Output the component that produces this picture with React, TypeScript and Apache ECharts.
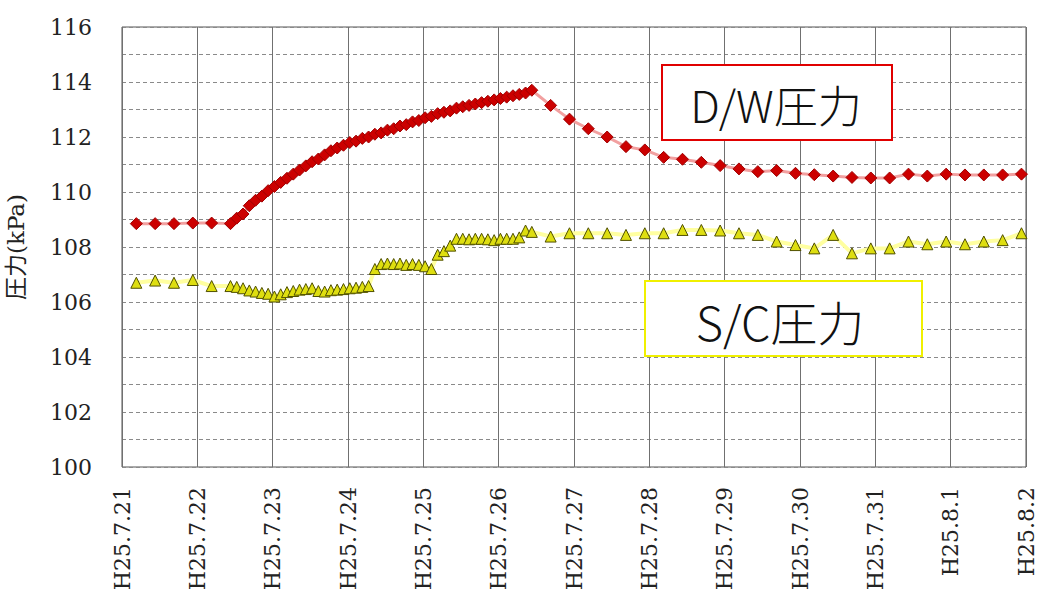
import React, { useEffect, useRef } from "react";
import * as echarts from "echarts";

// X tick labels (one per day)
const dateLabels = [
  "H25.7.21", "H25.7.22", "H25.7.23", "H25.7.24", "H25.7.25", "H25.7.26", "H25.7.27",
  "H25.7.28", "H25.7.29", "H25.7.30", "H25.7.31", "H25.8.1", "H25.8.2",
];

// Sampling (day offsets from H25.7.21)
const sparseStep = 0.25; // 6-hourly readings
const denseStep = 1 / 12; // 2-hourly readings
const beforeStart = 0.19;
const riseStart = 1.44;
const afterStart = 5.69;

// D/W pressure (kPa)
const dwBefore = [108.85, 108.85, 108.85, 108.87, 108.87];
const dwRise = [
  108.85, 109.05, 109.2, 109.5, 109.7, 109.85, 110.05, 110.2, 110.35, 110.5,
  110.65, 110.8, 110.95, 111.1, 111.2, 111.35, 111.5, 111.6, 111.7, 111.8,
  111.85, 111.95, 112.0, 112.1, 112.15, 112.25, 112.3, 112.4, 112.45, 112.55,
  112.6, 112.7, 112.75, 112.85, 112.9, 112.95, 113.05, 113.1, 113.15, 113.2,
  113.25, 113.3, 113.35, 113.4, 113.45, 113.5, 113.55, 113.6, 113.7,
];
const dwAfter = [
  113.15, 112.65, 112.3, 112.0, 111.65, 111.53, 111.26, 111.19, 111.08, 110.96,
  110.84, 110.74, 110.78, 110.68, 110.63, 110.58, 110.53, 110.51, 110.51, 110.65,
  110.58, 110.65, 110.62, 110.62, 110.62, 110.65,
];

// S/C pressure (kPa)
const scBefore = [106.7, 106.78, 106.7, 106.8, 106.58];
const scRise = [
  106.58, 106.55, 106.5, 106.42, 106.38, 106.33, 106.3, 106.2, 106.28, 106.36,
  106.4, 106.45, 106.47, 106.5, 106.4, 106.38, 106.43, 106.45, 106.47, 106.5,
  106.52, 106.55, 106.58, 107.2, 107.38, 107.4, 107.38, 107.4, 107.35, 107.38,
  107.35, 107.3, 107.2, 107.72, 107.85, 108.05, 108.3, 108.3, 108.28, 108.3,
  108.3, 108.28, 108.25, 108.3, 108.3, 108.3, 108.35, 108.6, 108.55,
];
const scAfter = [
  108.38, 108.5, 108.5, 108.5, 108.44, 108.5, 108.5, 108.62, 108.62, 108.6,
  108.5, 108.44, 108.2, 108.07, 107.95, 108.44, 107.77, 107.95, 107.95, 108.2,
  108.1, 108.2, 108.1, 108.2, 108.25, 108.5,
];

const toPairs = (before: number[], rise: number[], after: number[]) => [
  ...before.map((v, i) => [beforeStart + i * sparseStep, v]),
  ...rise.map((v, i) => [riseStart + i * denseStep, v]),
  ...after.map((v, i) => [afterStart + i * sparseStep, v]),
];

export default function App() {
  const ref = useRef<HTMLDivElement>(null);
  useEffect(() => {
    if (!ref.current) return;
    const chart = echarts.init(ref.current, null, { renderer: "svg" });
    const serif = "'DejaVu Serif', 'Liberation Serif', serif";
    const cjk = "'Noto Sans CJK JP', 'Noto Sans', sans-serif";
    chart.setOption({
      animation: false,
      backgroundColor: "#ffffff",
      grid: {
        left: 122,
        top: 27,
        width: 904,
        height: 440,
        outerBoundsMode: "none",
        containLabel: false,
        show: true,
        borderColor: "#555",
        borderWidth: 1,
        backgroundColor: "transparent",
      },
      xAxis: {
        type: "value",
        min: 0,
        max: 12,
        interval: 1,
        axisLine: { show: false },
        axisTick: { show: false },
        axisLabel: {
          rotate: 90,
          margin: 20,
          fontFamily: serif,
          fontSize: 22,
          color: "#222",
          formatter: (v: number) => dateLabels[Math.round(v)] ?? "",
        },
        splitLine: { show: true, lineStyle: { color: "#707070", width: 1, type: "solid" } },
      },
      yAxis: {
        type: "value",
        min: 100,
        max: 116,
        interval: 1,
        name: "圧力(kPa)",
        nameLocation: "middle",
        nameGap: 95,
        nameTextStyle: { fontFamily: "'DejaVu Serif', 'Noto Sans CJK JP', serif", fontSize: 23, color: "#222" },
        axisLine: { show: false },
        axisTick: { show: false },
        axisLabel: {
          margin: 30,
          fontFamily: serif,
          fontSize: 22,
          color: "#222",
          formatter: (v: number) => (Math.round(v) % 2 === 0 ? String(Math.round(v)) : ""),
        },
        splitLine: { show: true, lineStyle: { color: "#8a8a8a", width: 1, type: [4, 3] } },
      },
      series: [
        {
          name: "S/C圧力",
          type: "line",
          data: toPairs(scBefore, scRise, scAfter),
          symbol: "triangle",
          symbolSize: 11,
          lineStyle: { color: "#ffffa0", width: 4 },
          itemStyle: { color: "#dede10", borderColor: "#505000", borderWidth: 1 },
          z: 3,
        },
        {
          name: "D/W圧力",
          type: "line",
          data: toPairs(dwBefore, dwRise, dwAfter),
          symbol: "diamond",
          symbolSize: [12, 12],
          lineStyle: { color: "#f2a0a0", width: 3 },
          itemStyle: { color: "#cc0000", borderColor: "#a00000", borderWidth: 1 },
          z: 4,
        },
      ],
      graphic: [
        {
          type: "rect",
          shape: { x: 662, y: 65, width: 230, height: 75 },
          style: { fill: "#ffffff", stroke: "#e00000", lineWidth: 2 },
          z: 10,
        },
        {
          type: "text",
          x: 776,
          y: 104,
          style: {
            text: "D/W圧力",
            fontFamily: cjk,
            fontWeight: 300,
            fontSize: 44,
            fill: "#111",
            align: "center",
            verticalAlign: "middle",
          },
          z: 11,
        },
        {
          type: "rect",
          shape: { x: 645, y: 281, width: 277, height: 75 },
          style: { fill: "#ffffff", stroke: "#f0f000", lineWidth: 2 },
          z: 10,
        },
        {
          type: "text",
          x: 780,
          y: 320,
          style: {
            text: "S/C圧力",
            fontFamily: cjk,
            fontWeight: 300,
            fontSize: 47,
            fill: "#111",
            align: "center",
            verticalAlign: "middle",
          },
          z: 11,
        },
      ],
    });
    return () => chart.dispose();
  }, []);
  return (
    <div
      ref={ref}
      style={{ position: "absolute", left: 0, top: 0, width: 1038, height: 598 }}
    />
  );
}
